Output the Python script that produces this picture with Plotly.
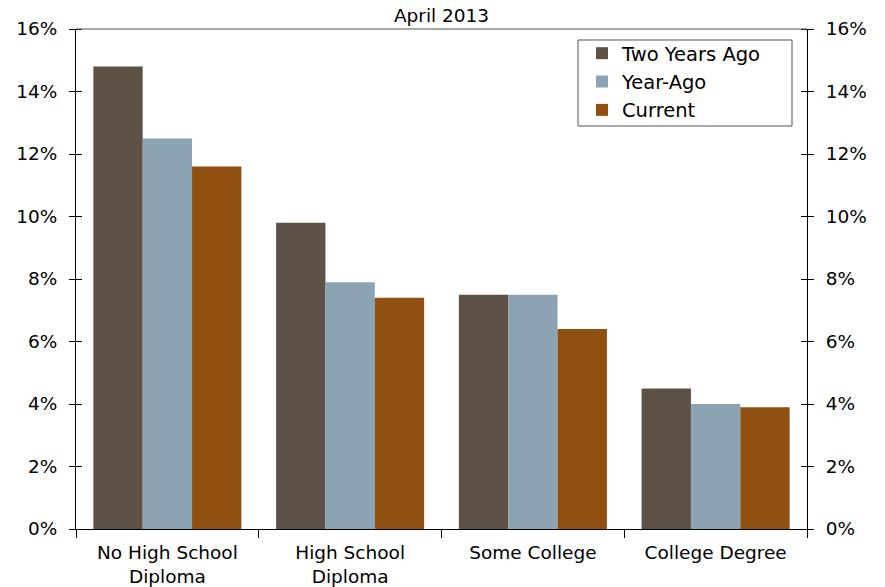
import plotly.graph_objects as go

categories = ["No High School<br>Diploma", "High School<br>Diploma", "Some College", "College Degree"]
two_years_ago = [14.8, 9.8, 7.5, 4.5]
year_ago = [12.5, 7.9, 7.5, 4.0]
current = [11.6, 7.4, 6.4, 3.9]
series_names = ["Two Years Ago", "Year-Ago", "Current"]
colors = ["#5E5246", "#8BA3B2", "#8F5012"]
tick_vals = [0, 2, 4, 6, 8, 10, 12, 14, 16]
tick_text = [f"{v}%" for v in tick_vals]

FONT = "DejaVu Sans, Verdana, sans-serif"

fig = go.Figure()
for name, vals, col in zip(series_names, [two_years_ago, year_ago, current], colors):
    fig.add_trace(go.Bar(x=categories, y=vals, name=name, marker=dict(color=col, line=dict(width=0))))

fig.add_trace(go.Scatter(x=categories, y=current, yaxis="y2", mode="markers",
                         marker=dict(opacity=0), showlegend=False, hoverinfo="skip"))

yax_common = dict(range=[0, 16], tickvals=tick_vals, ticktext=tick_text, ticks="outside", ticklen=6,
                  tickcolor="black", showline=True, linecolor="black", linewidth=1, showgrid=False,
                  zeroline=False, automargin=False, ticklabelstandoff=8, tickfont=dict(size=18.5),
                  minor=dict(tickvals=tick_vals, ticks="inside", ticklen=6, tickcolor="black", showgrid=False))

PW, PH, PL, PB = 731, 500, 76, 529  # plot area geometry in pixels

fig.update_layout(
    width=885, height=587,
    margin=dict(l=76, r=78, t=29, b=58),
    paper_bgcolor="white", plot_bgcolor="white",
    font=dict(family=FONT, size=18, color="black"),
    barmode="group", bargap=0.19, bargroupgap=0,
    title=dict(text="April 2013", x=0.5, xref="paper", xanchor="center", y=1 - 16/587, yanchor="middle",
               font=dict(size=18.5, family=FONT, color="black")),
    xaxis=dict(type="category", tickson="boundaries", ticks="outside", ticklen=8, tickcolor="black",
               showline=True, linecolor="black", linewidth=1, showgrid=False, automargin=False,
               ticklabelstandoff=7, tickfont=dict(size=18.5)),
    yaxis=yax_common,
    yaxis2=dict(**yax_common, overlaying="y", side="right"),
    legend=dict(x=(582 - PL) / PW, y=(PB - 34) / PH, xanchor="left", yanchor="top",
                borderwidth=0, bgcolor="rgba(0,0,0,0)",
                font=dict(size=19.5, family=FONT), itemwidth=30),
    shapes=[dict(type="line", xref="paper", yref="paper", x0=0, x1=1, y0=1, y1=1,
                 line=dict(color="#555555", width=1)),
            dict(type="rect", xref="paper", yref="paper",
                 x0=(578 - PL) / PW, x1=(792 - PL) / PW, y0=(PB - 126) / PH, y1=(PB - 40) / PH,
                 line=dict(color="#555555", width=1), fillcolor="rgba(0,0,0,0)", layer="above")],
)

fig.write_html("out.html")
